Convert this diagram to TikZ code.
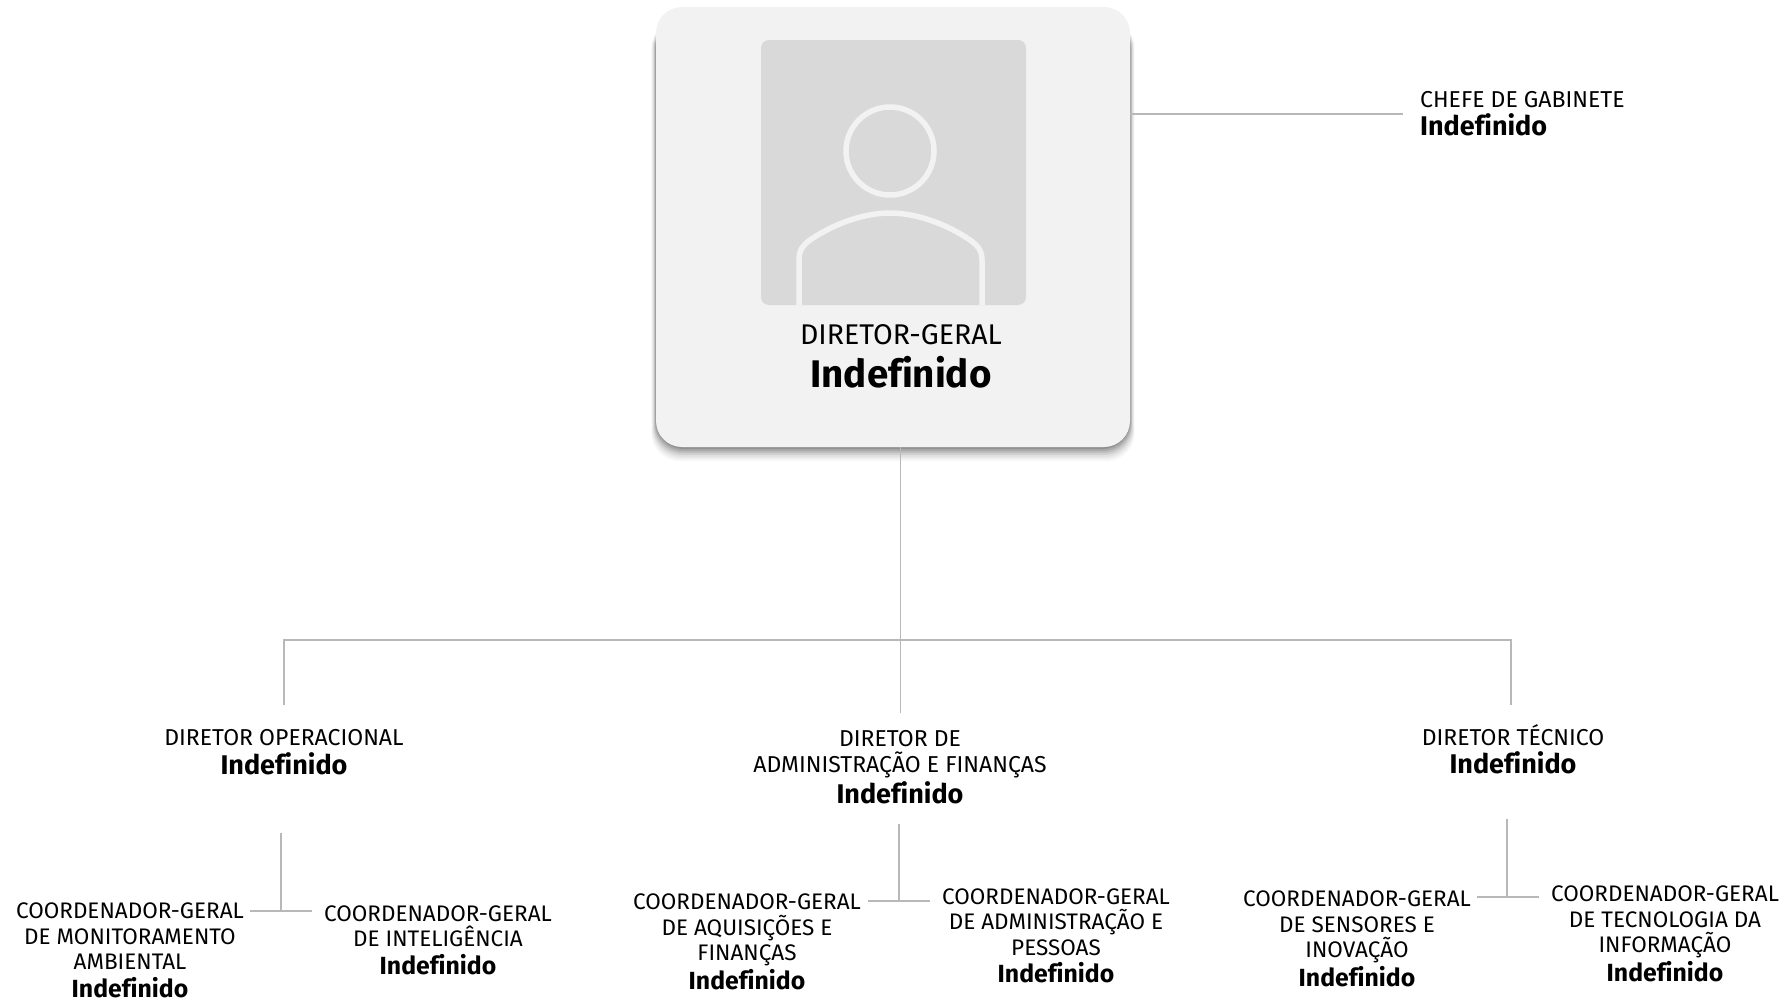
\documentclass[tikz,border=0pt]{standalone}
\usepackage{fontspec}
\setmainfont[Ligatures=NoCommon]{Fira Sans}
\usepackage{xcolor}
\usetikzlibrary{shapes, backgrounds}
\definecolor{cardFill}{HTML}{F2F2F2}
\definecolor{photoFill}{HTML}{D9D9D9}
\definecolor{lineGray}{HTML}{B8B8B8}
\newcommand{\NomeTitular}
{Indefinido}
\tikzset{
  linha/.style={draw=lineGray, line width=1.4pt},
  cargo/.style={align=center, inner sep=0pt, font=\fontsize{22.5}{25.5}\selectfont},
  diretor/.style={align=center, inner sep=0pt, font=\fontsize{23}{25.5}\selectfont},
  icone/.style={draw=cardFill, line width=5.5pt},
}
\newcommand{\Nome}
{{\fontsize{24.8}{28}\selectfont\bfseries\NomeTitular}}
\newcommand{\NomeDir}
{{\fontsize{27}{30}\selectfont\bfseries\NomeTitular}}

\begin{document}
\begin{tikzpicture}[x=1pt, y=-1pt]
    \useasboundingbox (0,0) rectangle (1789,1001);
    % sombra do cartao
    \foreach \d/\o in {13/.03, 11/.04, 9/.05, 7/.07, 5/.09, 3/.11, 1/.14}{
      \fill[black, opacity=\o, rounded corners=28pt]
        (656-\d*0.35,20) rectangle (1130+\d*0.35,448+\d);
    }
    \node[fill=cardFill, rounded corners=26pt, minimum width=474pt, minimum height=440pt,
          inner sep=0pt] (card) at (893,227) {};
    \node[fill=photoFill, rounded corners=8pt, minimum width=265pt, minimum height=265pt,
          inner sep=0pt] (photo) at (893.5,172.5) {};
    % boneco
    \draw[icone] (890,151) circle (44);
    \draw[icone] (799,305) -- (799,260) .. controls (799,250) and (803,245) .. (810,240)
       .. controls (835,223) and (865,213) .. (890,213)
       .. controls (915,213) and (945,223) .. (970,240)
       .. controls (977,245) and (982,250) .. (982,260) -- (982,305);
    \node[align=center, inner sep=0pt] (geral) at (901,356.5) {
      {\fontsize{28.5}{32}\selectfont DIRETOR-GERAL}\\[10pt]
      {\fontsize{38.5}{42}\selectfont\bfseries\NomeTitular}
    };
    % diretores
    \node[diretor, align=left, anchor=west] (chefe) at (1420,113.5) {CHEFE DE GABINETE\\[3pt] \NomeDir};
    \node[diretor] (dirOper) at (284,752) {DIRETOR OPERACIONAL\\[3pt] \NomeDir};
    \node[diretor] (dirAdm) at (900,767.5) {DIRETOR DE\\ ADMINISTRAÇÃO E FINANÇAS\\[3pt] \NomeDir};
    \node[diretor] (dirTec) at (1513,749) {DIRETOR TÉCNICO\\[3pt] \NomeDir};
    % coordenadores
    \node[cargo] (coMon) at (130,950.5) {COORDENADOR-GERAL\\ DE MONITORAMENTO\\ AMBIENTAL\\[2pt] \Nome};
    \node[cargo] (coInt) at (438,940) {COORDENADOR-GERAL\\ DE INTELIGÊNCIA\\[2pt] \Nome};
    \node[cargo] (coAqu) at (747,942) {COORDENADOR-GERAL\\ DE AQUISIÇÕES E\\ FINANÇAS\\[2pt] \Nome};
    \node[cargo] (coPes) at (1056,936) {COORDENADOR-GERAL\\ DE ADMINISTRAÇÃO E\\ PESSOAS\\[2pt] \Nome};
    \node[cargo] (coSen) at (1357,939) {COORDENADOR-GERAL\\ DE SENSORES E\\ INOVAÇÃO\\[2pt] \Nome};
    \node[cargo] (coTec) at (1665,934) {COORDENADOR-GERAL\\ DE TECNOLOGIA DA\\ INFORMAÇÃO\\[2pt] \Nome};
    % ligacoes
    \coordinate (chefeFim) at (1403,114);
    \coordinate (topoOper) at (284,705);
    \coordinate (topoAdm) at (900.5,713);
    \coordinate (topoTec) at (1511,705);
    \coordinate (barra) at (900.5,640);
    \draw[linha] (chefeFim -| card.east) -- (chefeFim);
    \draw[linha] (topoAdm |- card.south) -- (topoAdm);
    \draw[linha] (topoOper) -- (topoOper |- barra) -- (topoTec |- barra) -- (topoTec);
    % ligacoes dos coordenadores
    \foreach \nome/\xv/\yt/\yb/\xa/\xb in {Oper/281/833/911/250/312, Adm/899/824/901/868/930, Tec/1507/819/897/1477/1539}{
      \coordinate (cima\nome) at (\xv,\yt);
      \coordinate (junta\nome) at (\xv,\yb);
      \coordinate (esq\nome) at (\xa,\yb);
      \coordinate (dir\nome) at (\xb,\yb);
      \draw[linha] (cima\nome) -- (junta\nome);
      \draw[linha] (esq\nome) -- (dir\nome);
    }
\end{tikzpicture}
\end{document}
